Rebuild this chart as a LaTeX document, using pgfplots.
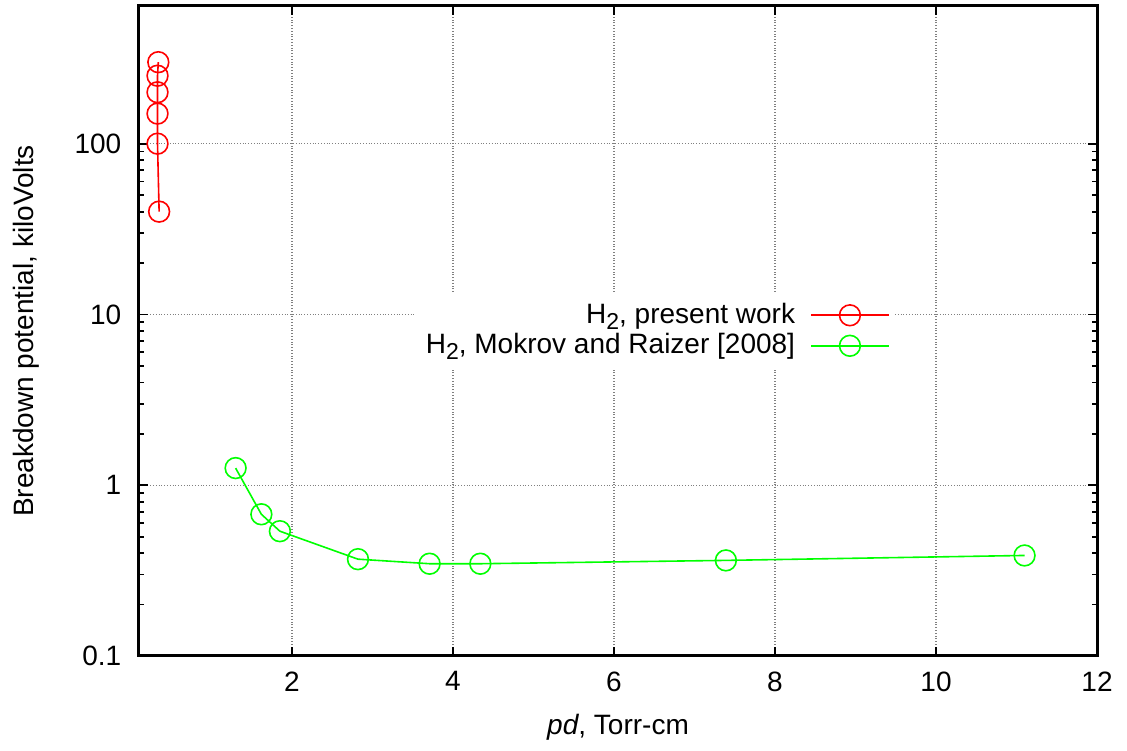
\documentclass[border=0pt]{standalone}
\usepackage{fontspec}
\setmainfont{Liberation Sans}
\usepackage{pgfplots}
\pgfplotsset{compat=1.18}

\begin{document}
\fontsize{14}{16}\selectfont
\begin{tikzpicture}
\begin{axis}[
    scale only axis,
    width=479pt, height=325pt,
    ymode=log,
    xmin=0.1, xmax=12,
    ymin=0.1, ymax=640,
    xtick={2,4,6,8,10,12},
    ytick={0.1,1,10,100},
    yticklabels={0.1,1,10,100},
    /pgf/number format/assume math mode=true,
    tick align=inside,
    major tick length=4.5pt,
    minor tick length=2.5pt,
    tick style={black, line width=0.9pt},
    axis line style={line width=1.5pt},
    xmajorgrids, ymajorgrids,
    major grid style={densely dotted, gray, line width=0.6pt},
    xlabel={\textit{pd}, Torr-cm},
    ylabel={Breakdown potential, kiloVolts},
    xlabel style={yshift=-2pt},
    ylabel style={yshift=8pt},
    xticklabel style={yshift=-3pt},
    yticklabel style={xshift=-4pt},
    legend cell align=right,
    legend plot pos=right,
    legend style={at={(0.79,0.559)}, anchor=north east, draw=none, fill=white,
        row sep=-1pt, inner sep=3pt, font=\fontsize{14}{16}\selectfont},
    legend image code/.code={\path (0cm,0cm);
        \draw[mark repeat=2, mark phase=2] plot coordinates {(0.2cm,0cm) (0.88cm,0cm) (1.56cm,0cm)};},
]
\addplot[red, line width=0.8pt, mark=o, mark size=5.2pt, mark options={line width=0.8pt}] coordinates {
    (0.35,40) (0.33,100) (0.33,150) (0.33,200) (0.33,250) (0.34,300)
};
\addlegendentry{H\raisebox{-0.4ex}{\fontsize{11.5}{12}\selectfont 2}, present work}
\addplot[green, line width=0.8pt, mark=o, mark size=5.2pt, mark options={line width=0.8pt}] coordinates {
    (1.30,1.26) (1.62,0.676) (1.85,0.538) (2.82,0.369) (3.71,0.347) (4.34,0.347) (7.39,0.363) (11.1,0.388)
};
\addlegendentry{H\raisebox{-0.4ex}{\fontsize{11.5}{12}\selectfont 2}, Mokrov and Raizer [2008]}
\end{axis}
\path ([xshift=-69.5pt,yshift=-45pt]current axis.south west) rectangle ([xshift=15pt,yshift=3pt]current axis.north east);
\end{tikzpicture}
\end{document}
